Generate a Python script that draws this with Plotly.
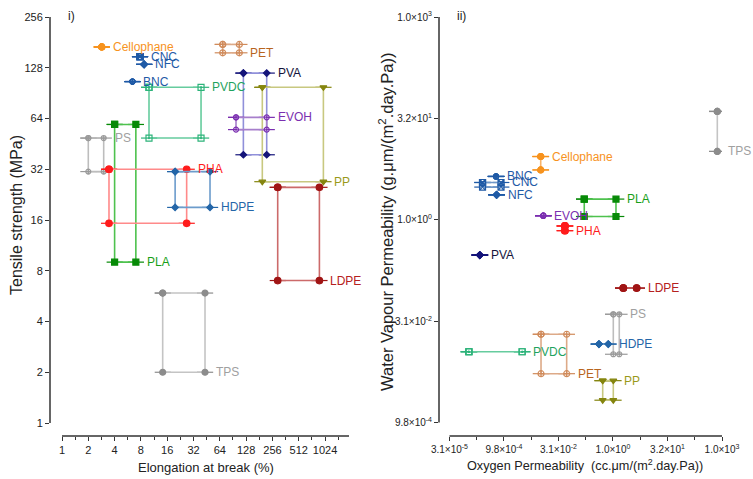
import numpy as np
import plotly.graph_objects as go

materials = ["Cellophane", "CNC", "NFC", "BNC", "PET", "PVA", "PVDC", "PP",
             "EVOH", "PLA", "PS", "PHA", "HDPE", "LDPE", "TPS"]

# Panel i) : elongation at break (%) vs tensile strength (MPa)
elong_min = [2.85, 7.8, 8.7, 6.4, 69, 119, 9.9, 196, 98, 4.0, 2.0, 3.45, 19.7, 294, 14.2]
elong_max = [2.85, 7.8, 8.7, 6.4, 107, 220, 39, 980, 220, 7.0, 3.0, 26.7, 49.4, 882, 43.3]
tensile_min = [170, 149, 134, 106, 157, 39, 49, 27, 55, 9.0, 31, 15.3, 19, 7.0, 2.0]
tensile_max = [170, 149, 134, 106, 176, 119, 98, 98, 65, 59, 49, 32, 31, 25, 5.9]

# Panel ii) : oxygen permeability vs water vapour permeability
oxy_min = [0.0101, 2.5e-4, 6.1e-4, 5.9e-4, 0.0103, 2.1e-4, 1.05e-4, 0.52, 0.0119, 0.161, 1.02, 0.047, 0.41, 1.93, 760]
oxy_max = [0.0101, 8.1e-4, 6.1e-4, 5.9e-4, 0.0526, 2.1e-4, 3.1e-3, 1.02, 0.0119, 1.21, 1.49, 0.047, 0.74, 4.5, 760]
wvp_min = [5.5, 3.06, 2.35, 4.4, 0.0052, 0.30, 0.011, 0.0021, 1.15, 1.12, 0.0101, 0.69, 0.0143, 0.097, 10.35]
wvp_max = [8.7, 3.58, 2.35, 4.4, 0.020, 0.30, 0.011, 0.0041, 1.15, 2.03, 0.0396, 0.81, 0.0143, 0.097, 40.6]

left_x_ticks = [1, 2, 4, 8, 16, 32, 64, 128, 256, 512, 1024]
left_y_ticks = [1, 2, 4, 8, 16, 32, 64, 128, 256]
right_x_tickvals = [2**-15, 2**-10, 2**-5, 1, 2**5, 2**10]
right_x_ticktext = ["3.1×10<sup>-5</sup>", "9.8×10<sup>-4</sup>", "3.1×10<sup>-2</sup>",
                    "1.0×10<sup>0</sup>", "3.2×10<sup>1</sup>", "1.0×10<sup>3</sup>"]
right_y_tickvals = [2**-10, 2**-5, 1, 2**5, 2**10]
right_y_ticktext = ["9.8×10<sup>-4</sup>", "3.1×10<sup>-2</sup>", "1.0×10<sup>0</sup>",
                    "3.2×10<sup>1</sup>", "1.0×10<sup>3</sup>"]

# style: marker colour, line colour, label colour, symbol, size
style = {
    "Cellophane": ("#F7931E", "#F9B46A", "#F7931E", "circle", 6),
    "CNC": ("#1F5AA6", "#6F97C8", "#1F5AA6", "square-x-open", 6),
    "NFC": ("#1F5AA6", "#6F97C8", "#1F5AA6", "diamond-cross-open", 5),
    "BNC": ("#1F5AA6", "#6F97C8", "#1F5AA6", "circle-cross-open", 5),
    "PET": ("#D08B5B", "#DDAA88", "#B8651E", "circle-cross-open", 6),
    "PVA": ("#14147A", "#9090DA", "#14143C", "diamond", 5),
    "PVDC": ("#2DB37A", "#66CC9E", "#1FA35E", "square-open-dot", 6),
    "PP": ("#85850F", "#C8C880", "#9A9A1A", "triangle-down", 6),
    "EVOH": ("#7B2FB0", "#A77FCC", "#7B2FB0", "circle-open-dot", 5),
    "PLA": ("#078A07", "#4EC24E", "#18A018", "square", 6),
    "PS": ("#9A9A9A", "#BDBDBD", "#A0A0A0", "circle-cross-open", 5),
    "PHA": ("#FF1C1C", "#FF8A8A", "#FF1C1C", "circle", 6.5),
    "HDPE": ("#2466A8", "#6C9CCC", "#2466A8", "diamond", 5),
    "LDPE": ("#A01515", "#CC6A6A", "#B52020", "circle", 6.5),
    "TPS": ("#8C8C8C", "#C4C4C4", "#A0A0A0", "circle", 6),
}
label_left = {"PET": "lo", "PP": "lo", "HDPE": "lo", "PLA": "lo", "LDPE": "lo", "TPS": "lo"}
label_right = {"TPS": "lo", "PHA": "lo", "PET": "lo"}

FONT = "Arial, Liberation Sans, sans-serif"
fig = go.Figure()
annotations = []


def add_boxes(xmin, xmax, ymin, ymax, xa, ya, err_plus, err_minus, label_pos):
    for i, m in enumerate(materials):
        mc, lc, tc, sym, sz = style[m]
        xs = [xmin[i], xmax[i], xmax[i], xmin[i], xmin[i]]
        ys = [ymax[i], ymax[i], ymin[i], ymin[i], ymax[i]]
        fig.add_trace(go.Scatter(
            x=xs, y=ys, mode="lines+markers", xaxis=xa, yaxis=ya,
            line=dict(color=lc, width=1.6),
            marker=dict(symbol=sym, size=sz, color=mc, line=dict(color=mc, width=1.2)),
            error_x=dict(type="percent", value=err_plus, valueminus=err_minus, symmetric=False,
                         color=mc, thickness=1.2, width=0),
            showlegend=False, hoverinfo="skip"))
        ly = ymin[i] if label_pos.get(m) == "lo" else ymax[i]
        annotations.append(dict(
            x=np.log10(xmax[i]), y=np.log10(ly), xref=xa, yref=ya, text=m,
            showarrow=False, xanchor="left", yanchor="middle", xshift=9,
            font=dict(family=FONT, size=12, color=tc)))


add_boxes(elong_min, elong_max, tensile_min, tensile_max, "x", "y", 24, 19, label_left)
add_boxes(oxy_min, oxy_max, wvp_min, wvp_max, "x2", "y2", 70, 41, label_right)

W, H = 753, 479
ytop, ybot = 17, 436
lx_range = [np.log10(2 ** -0.456), np.log10(2 ** 10.91)]
ly_range = [np.log10(2 ** -0.256), np.log10(256)]
rx_range = [np.log10(2 ** -15.96), np.log10(2 ** 10)]
ry_range = [np.log10(2 ** -10.66), np.log10(2 ** 10)]

axis_common = dict(type="log", showgrid=False, zeroline=False, showline=False,
                   ticks="outside", ticklen=4, tickwidth=1.3, tickcolor="#333",
                   tickfont=dict(family=FONT, size=11, color="#222"), automargin=False)

def minor_vals(lo, hi, step):
    return [2 ** (k + step / 2) for k in np.arange(lo, hi + 0.001, step)]

fig.update_layout(
    width=W, height=H, margin=dict(l=0, r=0, t=0, b=0),
    plot_bgcolor="white", paper_bgcolor="white",
    xaxis=dict(domain=[50 / W, 349 / W], range=lx_range, anchor="y",
               tickmode="array", tickvals=left_x_ticks, ticktext=[str(v) for v in left_x_ticks],
               minor=dict(tickmode="array", tickvals=minor_vals(0, 10, 1), ticks="outside",
                          ticklen=3, tickwidth=1, tickcolor="#333"),
               **axis_common),
    yaxis=dict(domain=[1 - ybot / H, 1 - ytop / H], range=ly_range, anchor="x",
               tickmode="array", tickvals=left_y_ticks, ticktext=[str(v) for v in left_y_ticks],
               **axis_common),
    xaxis2=dict(domain=[439 / W, 722 / W], range=rx_range, anchor="y2",
                tickmode="array", tickvals=right_x_tickvals, ticktext=right_x_ticktext,
                minor=dict(tickmode="array", tickvals=minor_vals(-15, 5, 5), ticks="outside",
                           ticklen=3, tickwidth=1, tickcolor="#333"),
                **{**axis_common, "tickfont": dict(family=FONT, size=10, color="#222")}),
    yaxis2=dict(domain=[1 - ybot / H, 1 - ytop / H], range=ry_range, anchor="x2",
                tickmode="array", tickvals=right_y_tickvals, ticktext=right_y_ticktext,
                **{**axis_common, "tickfont": dict(family=FONT, size=10, color="#222")}),
)

def frac(v, rng):
    return (np.log10(v) - rng[0]) / (rng[1] - rng[0])

line_style = dict(color="#333", width=1.5)
shapes = [
    dict(type="line", xref="x domain", yref="y domain", x0=frac(1, lx_range), x1=1, y0=0, y1=0, line=line_style),
    dict(type="line", xref="x domain", yref="y domain", x0=0, x1=0, y0=frac(1, ly_range), y1=1, line=line_style),
    dict(type="line", xref="x2 domain", yref="y2 domain", x0=frac(2 ** -15, rx_range), x1=1, y0=0, y1=0, line=line_style),
    dict(type="line", xref="x2 domain", yref="y2 domain", x0=0, x1=0, y0=frac(2 ** -10, ry_range), y1=1, line=line_style),
]

def ann(text, px, py, size, angle=0):
    return dict(text=text, x=px / W, y=1 - py / H, xref="paper", yref="paper", showarrow=False,
                xanchor="center", yanchor="middle", textangle=angle,
                font=dict(family=FONT, size=size, color="#222"))

annotations += [
    ann("i)", 71, 16, 12),
    ann("ii)", 461, 16, 12),
    ann("Tensile strength (MPa)", 17, 215, 16, -90),
    ann("Elongation at break (%)", 206, 467, 13),
    ann("Water Vapour Permeability (g.μm/(m<sup>2</sup>.day.Pa))", 386, 222, 16.5, -90),
    ann("Oxygen Permeability  (cc.μm/(m<sup>2</sup>.day.Pa))", 585, 465, 12.7),
]

fig.update_layout(shapes=shapes, annotations=annotations)
fig.write_html("out.html", config={"displayModeBar": False},
               post_script="document.body.style.margin='0';document.body.style.padding='0';")
